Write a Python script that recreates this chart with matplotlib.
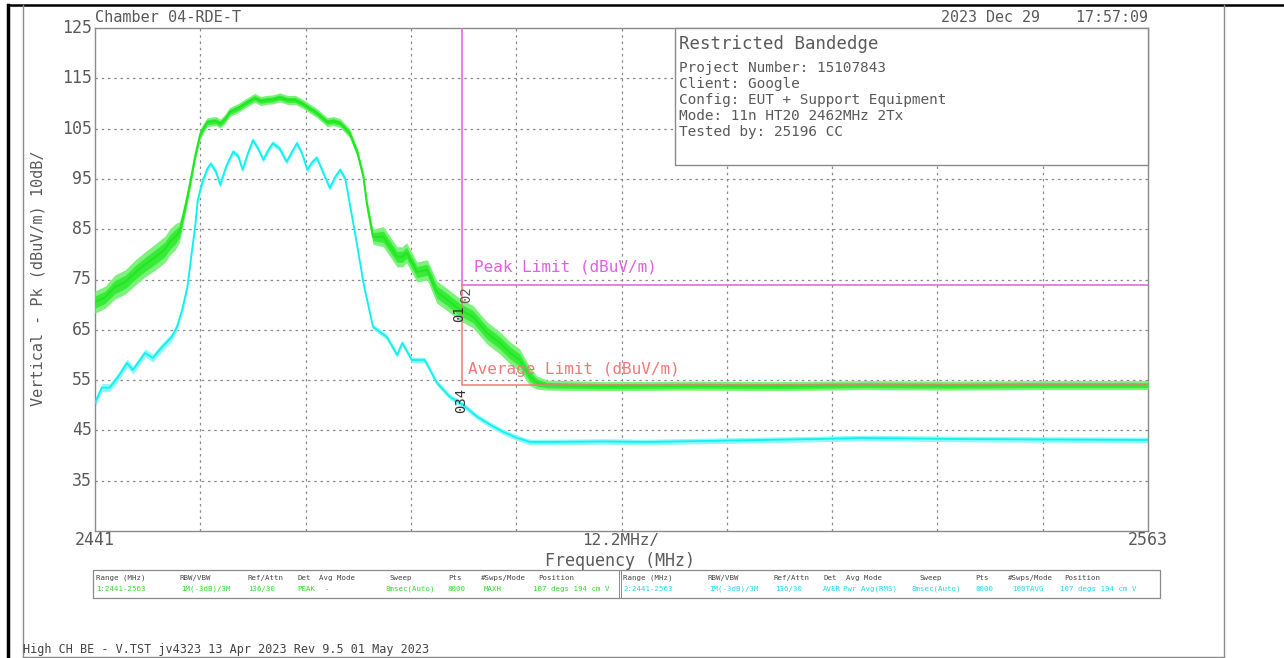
import matplotlib
matplotlib.use("Agg")
import matplotlib.pyplot as plt
from matplotlib.patches import Rectangle
from matplotlib.lines import Line2D
import numpy as np

W, H = 1284, 658

# ---------------- data ----------------
x_min, x_max = 2441, 2563
y_min, y_max = 25, 125
y_ticks = [35, 45, 55, 65, 75, 85, 95, 105, 115, 125]

peak_freq = [2441.0, 2442.2, 2443.3, 2444.5, 2445.6, 2446.8, 2448.0, 2449.1, 2449.7, 2450.3,
             2450.8, 2451.4, 2452.0, 2452.6, 2453.2, 2454.0, 2455.0, 2455.5, 2456.1, 2456.6,
             2457.6, 2458.4, 2459.5, 2460.2, 2460.9, 2461.6, 2462.4, 2463.3, 2464.2, 2465.0,
             2465.6, 2466.7, 2467.9, 2468.6, 2469.4, 2470.5, 2471.4, 2472.1, 2472.5, 2473.2,
             2474.4, 2475.0, 2476.0, 2476.6, 2477.1, 2478.3, 2479.5, 2480.6, 2481.8, 2483.3,
             2484.8, 2486.4, 2487.9, 2489.1, 2490.2, 2491.4, 2492.2, 2493.4, 2500.0, 2510.0,
             2520.0, 2530.0, 2540.0, 2550.0, 2563.0]
peak_db = [70.5, 71.5, 73.5, 74.5, 76.3, 78.0, 79.5, 81.0, 82.5, 83.5,
           84.5, 89.0, 94.0, 99.5, 104.0, 106.3, 106.5, 106.0, 107.0, 108.3,
           109.1, 110.0, 111.1, 110.5, 110.7, 110.8, 111.2, 110.7, 110.7, 110.0,
           109.3, 108.1, 106.3, 106.5, 106.1, 104.1, 100.2, 95.4, 90.0, 83.5,
           83.5, 82.0, 79.5, 79.5, 80.3, 76.5, 76.9, 72.5, 71.0, 69.0,
           67.6, 64.4, 62.4, 60.4, 59.0, 55.7, 54.5, 54.0, 53.8, 53.9,
           53.8, 54.0, 53.9, 54.0, 54.0]
peak_spread = [2.2, 2.2, 2.4, 2.4, 2.5, 2.5, 2.6, 2.6, 2.6, 2.6,
               2.0, 1.5, 1.2, 1.0, 1.0, 0.9, 0.9, 0.9, 0.9, 0.9,
               0.9, 0.9, 0.9, 0.9, 0.9, 0.9, 0.9, 0.9, 0.9, 0.9,
               0.9, 0.9, 0.9, 0.9, 0.9, 0.9, 0.9, 0.9, 1.0, 1.5,
               2.0, 2.0, 2.0, 2.0, 2.0, 2.0, 2.0, 2.2, 2.2, 2.2,
               2.2, 2.2, 2.2, 2.2, 2.2, 1.8, 1.3, 1.0, 0.9, 0.9,
               0.9, 0.9, 0.9, 0.9, 0.9]

avg_freq = [2441.0, 2441.8, 2442.7, 2443.7, 2444.7, 2445.4, 2446.8, 2447.7, 2448.8, 2449.9,
            2450.5, 2451.1, 2451.7, 2452.2, 2452.6, 2452.9, 2453.4, 2454.0, 2454.4, 2455.0,
            2455.5, 2456.2, 2457.0, 2457.6, 2458.1, 2458.7, 2459.3, 2459.9, 2460.5, 2461.0,
            2461.6, 2462.4, 2463.2, 2463.8, 2464.4, 2465.0, 2465.6, 2466.1, 2466.7, 2467.5,
            2468.2, 2468.8, 2469.4, 2470.0, 2470.5, 2471.4, 2472.1, 2473.2, 2474.0, 2474.8,
            2476.0, 2476.6, 2477.7, 2479.2, 2480.6, 2482.1, 2483.6, 2485.3, 2486.8, 2488.3,
            2489.9, 2491.4, 2493.4, 2500.0, 2505.0, 2515.0, 2525.0, 2530.0, 2540.0, 2550.0,
            2563.0]
avg_db = [50.5, 53.5, 53.5, 55.7, 58.4, 57.0, 60.4, 59.4, 61.6, 63.6,
          65.6, 69.0, 73.5, 80.3, 85.5, 90.8, 94.2, 97.0, 98.0, 96.5,
          93.8, 97.5, 100.4, 99.5, 96.8, 100.0, 102.7, 101.0, 98.8, 100.5,
          102.1, 101.0, 98.4, 100.3, 102.1, 100.0, 96.8, 98.2, 99.2, 96.0,
          93.2, 95.3, 96.8, 95.0, 90.2, 81.5, 74.3, 65.6, 64.6, 63.6,
          60.0, 62.4, 59.0, 59.0, 54.5, 51.7, 50.1, 47.7, 46.1, 44.7,
          43.5, 42.7, 42.7, 42.8, 42.7, 43.0, 43.3, 43.5, 43.3, 43.2,
          43.1]
avg_spread = [0.8] * 17 + [0.55] * 54

limit_edge = 2483.5
peak_limit = 74
avg_limit = 54

table_left = [("Range (MHz)", "1:2441-2563"), ("RBW/VBW", "1M(-3dB)/3M"), ("Ref/Attn", "136/30"),
              ("Det", "PEAK"), ("Avg Mode", "-"), ("Sweep", "8msec(Auto)"), ("Pts", "8000"),
              ("#Swps/Mode", "MAXH"), ("Position", "107 degs 194 cm V")]
table_right = [("Range (MHz)", "2:2441-2563"), ("RBW/VBW", "1M(-3dB)/3M"), ("Ref/Attn", "136/30"),
               ("Det", "AVER"), ("Avg Mode", "Pwr Avg(RMS)"), ("Sweep", "8msec(Auto)"), ("Pts", "8000"),
               ("#Swps/Mode", "100TAVG"), ("Position", "107 degs 194 cm V")]

info_lines = ["Project Number: 15107843", "Client: Google", "Config: EUT + Support Equipment",
              "Mode: 11n HT20 2462MHz 2Tx", "Tested by: 25196 CC"]

# ---------------- styles ----------------
TXT = "#5a5a5a"
GRID = "#8a8a8a"
GREEN = "#1ee81e"
GREEN_B = "#7cf27c"
CYAN = "#10f0f0"
CYAN_B = "#8ff8f8"
MAG = "#e060e0"
RED = "#f07878"
plt.rcParams['font.family'] = ['DejaVu Sans Mono']


def fx(x):
    return x / W


def fy(y):
    return 1 - y / H


fig = plt.figure(figsize=(W / 100, H / 100), dpi=100)

ax_l, ax_r, ax_t, ax_b = 95, 1148, 28, 531
ax = fig.add_axes([fx(ax_l), fy(ax_b), fx(ax_r - ax_l), (ax_b - ax_t) / H])
ax.set_xlim(x_min, x_max)
ax.set_ylim(y_min, y_max)
for s in ax.spines.values():
    s.set_color(GRID)
    s.set_linewidth(1.0)
ax.set_xticks([])
ax.set_yticks([])

# grid
for k in range(1, 10):
    ax.axvline(x_min + k * (x_max - x_min) / 10, color=GRID, lw=0.9, ls=(0, (2, 3)), zorder=1)
for v in y_ticks[:-1]:
    ax.axhline(v, color=GRID, lw=0.9, ls=(0, (2, 3)), zorder=1)

# traces
pf = np.array(peak_freq); pdb = np.array(peak_db); ps = np.array(peak_spread)
af = np.array(avg_freq); adb = np.array(avg_db); as_ = np.array(avg_spread)
ax.fill_between(af, adb - as_, adb + as_, color=CYAN_B, lw=0, zorder=2)
ax.plot(af, adb, color=CYAN, lw=1.3, zorder=3)
ax.fill_between(pf, pdb - ps, pdb + ps, color=GREEN_B, lw=0, zorder=4)
ax.fill_between(pf, pdb - ps * 0.55, pdb + ps * 0.55, color=GREEN, lw=0, alpha=0.7, zorder=5)
ax.plot(pf, pdb, color=GREEN, lw=1.4, zorder=5)

# limits
ax.plot([limit_edge, limit_edge, x_max], [y_max, peak_limit, peak_limit], color=MAG, lw=1.1, zorder=6)
ax.plot([limit_edge, limit_edge, x_max], [peak_limit, avg_limit, avg_limit], color=RED, lw=1.1, zorder=6)
ax.text(2484.9, peak_limit + 1.9, "Peak Limit (dBuV/m)", color=MAG, fontsize=11.5, va="bottom", ha="left", zorder=7)
ax.text(2484.2, avg_limit + 1.7, "Average Limit (dBuV/m)", color=RED, fontsize=11.5, va="bottom", ha="left", zorder=7)

# marker labels
ax.text(limit_edge + 0.55, 72.0, "02", rotation=90, color=TXT, fontsize=10, ha="center", va="center", zorder=8)
ax.text(limit_edge - 0.35, 68.3, "01", rotation=90, color="#333333", fontsize=10, ha="center", va="center", zorder=8)
ax.text(limit_edge - 0.1, 51.0, "034", rotation=90, color="#333333", fontsize=10, ha="center", va="center", zorder=8)

# y tick labels
for v in y_ticks:
    ax.text(-0.003, (v - y_min) / (y_max - y_min), str(v), transform=ax.transAxes,
            ha="right", va="center", fontsize=12, color=TXT)

# x labels
fig.text(fx(95), fy(540), "2441", ha="center", va="center", fontsize=12, color=TXT)
fig.text(fx(1148), fy(540), "2563", ha="center", va="center", fontsize=12, color=TXT)
fig.text(fx(621), fy(540), "12.2MHz/", ha="center", va="center", fontsize=11.5, color=TXT)
fig.text(fx(620), fy(561), "Frequency (MHz)", ha="center", va="center", fontsize=12, color=TXT)
fig.text(fx(38), fy(278), "Vertical - Pk (dBuV/m) 10dB/", rotation=90, ha="center", va="center",
         fontsize=11, color=TXT)

# header
fig.text(fx(95), fy(17), "Chamber 04-RDE-T", ha="left", va="center", fontsize=11, color=TXT)
fig.text(fx(1148), fy(17), "2023 Dec 29    17:57:09", ha="right", va="center", fontsize=10.8, color=TXT)

# info box
fig.patches.append(Rectangle((fx(675), fy(165)), fx(1148 - 675), (165 - 28) / H,
                             transform=fig.transFigure, facecolor="white", edgecolor=GRID, lw=1.0, zorder=2))
fig.text(fx(679), fy(44), "Restricted Bandedge", ha="left", va="center", fontsize=12.5, color=TXT, zorder=4)
for i, line in enumerate(info_lines):
    fig.text(fx(679), fy(68 + 16 * i), line, ha="left", va="center", fontsize=10.4, color=TXT, zorder=4)

# table box
fig.patches.append(Rectangle((fx(93), fy(598)), fx(1160 - 93), 28 / H, transform=fig.transFigure,
                             facecolor="none", edgecolor=GRID, lw=0.9, zorder=2))
for xv in (619, 621):
    fig.lines.append(Line2D([fx(xv), fx(xv)], [fy(570), fy(598)], transform=fig.transFigure,
                            color=GRID, lw=0.7))
left_hx = [96, 180, 247, 297, 319, 390, 448, 481, 538]
left_vx = [96, 181, 248, 297, 325, 385, 448, 484, 533]
right_hx = [623, 707, 774, 823, 846, 919, 975, 1008, 1064]
right_vx = [623, 709, 775, 823, 843, 912, 975, 1012, 1060]
for (h, v), hx, vx in zip(table_left, left_hx, left_vx):
    fig.text(fx(hx), fy(578), h, ha="left", va="center", fontsize=5.3, color="#444444")
    fig.text(fx(vx), fy(589), v, ha="left", va="center", fontsize=5.3, color="#2ed82e")
for (h, v), hx, vx in zip(table_right, right_hx, right_vx):
    fig.text(fx(hx), fy(578), h, ha="left", va="center", fontsize=5.3, color="#444444")
    fig.text(fx(vx), fy(589), v, ha="left", va="center", fontsize=5.3, color="#20d8e8")

# footer
fig.text(fx(23), fy(650), "High CH BE - V.TST jv4323 13 Apr 2023 Rev 9.5 01 May 2023", ha="left",
         va="center", fontsize=8.5, color="#444444")

# page frame
fig.lines.append(Line2D([fx(8), fx(8)], [fy(5), fy(658)], transform=fig.transFigure, color="black", lw=2.5))
fig.lines.append(Line2D([fx(8), fx(1284)], [fy(5), fy(5)], transform=fig.transFigure, color="black", lw=1.8))
fig.lines.append(Line2D([fx(23), fx(23)], [fy(5), fy(658)], transform=fig.transFigure, color=GRID, lw=1.0))
fig.lines.append(Line2D([fx(1224), fx(1224)], [fy(5), fy(658)], transform=fig.transFigure, color=GRID, lw=1.0))
fig.lines.append(Line2D([fx(23), fx(1224)], [fy(657), fy(657)], transform=fig.transFigure, color=GRID, lw=1.0))

fig.savefig("out.png", dpi=100)
